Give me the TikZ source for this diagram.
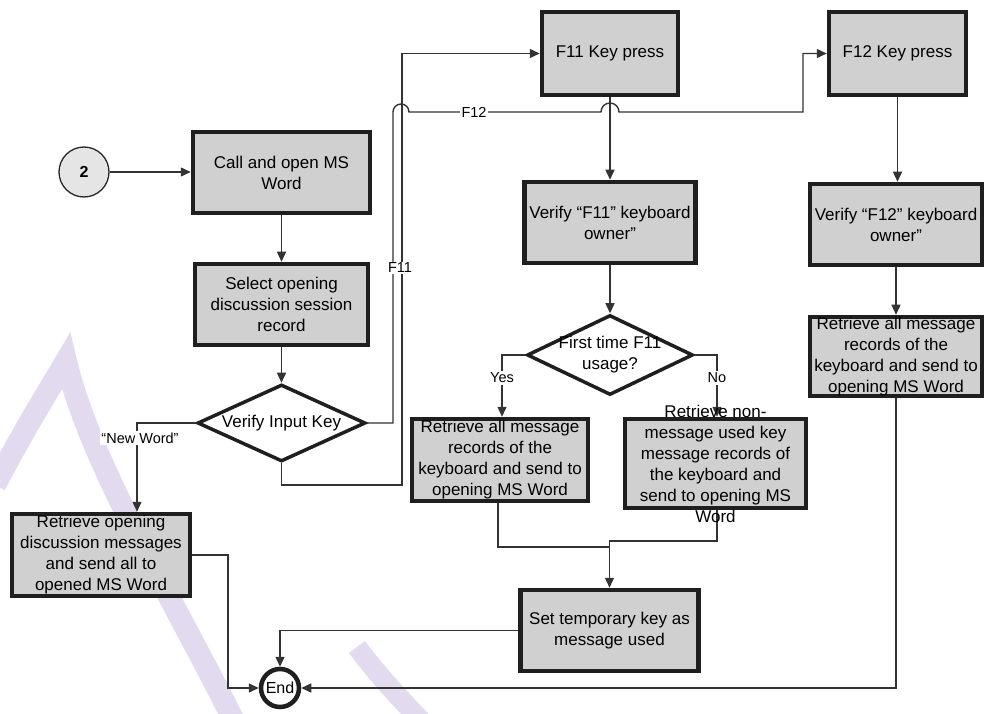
\documentclass[tikz,border=0pt]{standalone}
\usepackage{fontspec}
\setmainfont{Liberation Sans}
\usetikzlibrary{arrows.meta,shapes.geometric}
\definecolor{wmark}{RGB}{226,218,238}
\definecolor{boxfill}{RGB}{208,208,208}
\begin{document}
\begin{tikzpicture}[x=1pt,y=1pt,
  boxtext/.style={align=center, inner sep=0pt, font=\fontsize{17}{21}\selectfont},
  proc/.style={draw=black!88, line width=4.5pt, fill=boxfill, inner sep=0pt},
  ptext/.style={label={[boxtext]center:{#1}}},
  dec/.style={diamond, draw=black!88, line width=3.5pt, fill=white, inner sep=0pt},
  conn/.style={draw=black!80, line width=1.4pt},
  arr/.style={conn, -{Triangle[length=10pt,width=9pt]}},
  lbl/.style={fill=white, inner sep=1.5pt, font=\fontsize{14.5}{16}\selectfont},
  wm/.style={draw=wmark, line width=22pt, line join=miter}
]
\useasboundingbox (0,0) rectangle (984,713);

% faint background mark
\draw[wm] (-5,228) .. controls (25,285) and (50,325) .. (66,352)
          .. controls (90,250) and (170,120) .. (236,-12);
\draw[wm, line width=20pt] (357,66) .. controls (380,35) and (400,15) .. (425,-12);

% process boxes
\node[circle, draw=black!85, line width=1.3pt, fill=black!10, minimum size=50,
      inner sep=0pt, font=\bfseries\fontsize{16}{16}\selectfont] (c2) at (84,541) {2};
\node[proc, minimum width=177, minimum height=81,
      ptext={Call and open MS\\Word}] (callword) at (281.5,540.5) {};
\node[proc, minimum width=173, minimum height=81,
      ptext={Select opening\\discussion session\\record}] (selrec) at (281.5,408.5) {};
\node[dec, minimum width=168, minimum height=77] (vik) at (281.5,290) {};
\node[boxtext] (vikt) at (vik) {Verify Input Key};

\node[proc, minimum width=136, minimum height=83,
      ptext={F11 Key press}] (f11) at (610,659.5) {};
\node[proc, minimum width=137, minimum height=83,
      ptext={F12 Key press}] (f12) at (897.5,659.5) {};
\node[proc, minimum width=171, minimum height=81,
      ptext={Verify “F11” keyboard\\owner”}] (vf11) at (610,490.5) {};
\node[proc, minimum width=172, minimum height=81,
      ptext={Verify “F12” keyboard\\owner”}] (vf12) at (896,488.5) {};
\node[proc, minimum width=172, minimum height=79,
      ptext={Retrieve all message\\records of the\\keyboard and send to\\opening MS Word}] (ra12) at (896,356.5) {};

\node[dec, minimum width=166, minimum height=80] (fdia) at (610,358) {};
\node[proc, minimum width=176, minimum height=82,
      ptext={Retrieve all message\\records of the\\keyboard and send to\\opening MS Word}] (ra11) at (500,253) {};
\node[proc, minimum width=181, minimum height=89] (rnm) at (715.5,249.5) {};
\node[proc, minimum width=178, minimum height=81,
      ptext={Set temporary key as\\message used}] (settmp) at (609.5,82.5) {};
\node[proc, minimum width=178, minimum height=82,
      ptext={Retrieve opening\\discussion messages\\and send all to\\opened MS Word}] (rod) at (101,158) {};
\node[circle, draw=black!88, line width=4.5pt, fill=white, minimum size=38,
      inner sep=0pt, font=\fontsize{16}{16}\selectfont] (endn) at (280,25) {End};

% connectors
\draw[arr] (c2.east) -- (c2.east -| callword.west);
\draw[arr] (callword) -- (selrec);
\draw[arr] (selrec) -- (vik);
\draw[arr] (vik.west) -| ([xshift=36pt]rod.north);
\draw[arr] (vik.east) -| (393,601) arc[start angle=180,end angle=0,radius=8]
           -- (601,601) arc[start angle=180,end angle=0,radius=9]
           -- (803,601) |- (f12.west);
\draw[arr] (vik.south) |- (402,228) |- (f11.west);
\draw[arr] (f11) -- (vf11);
\draw[arr] (vf11) -- (fdia);
\draw[arr] (fdia.west) -| ([xshift=2pt]ra11.north);
\draw[arr] (fdia.east) -| ([xshift=1.5pt]rnm.north);
\draw[conn] ([xshift=-2pt]ra11.south) |- (609.5,166);
\draw[arr] ([xshift=1.5pt]rnm.south) |- (609.5,172) -- (settmp.north);
\draw[arr] (settmp.west) -| (endn.north);
\draw[arr] (rod.east) -| (228,25) -- (endn.west);
\draw[arr] (ra12.south) |- (endn.east);
\draw[arr] (f12.south) -- (f12.south |- vf12.north);
\draw[arr] (vf12) -- (ra12);

% texts laid over the drawing
\node[boxtext] (rnmt) at (rnm) {Retrieve non-\\message used key\\message records of\\the keyboard and\\send to opening MS\\Word};
\node[boxtext] (fdiat) at (fdia) {First time F11\\usage?};
\node[lbl] (lf11) at (400,445) {F11};
\node[lbl] (lf12) at (474,601) {F12};
\node[lbl] (lyes) at (502,335) {Yes};
\node[lbl] (lno) at (717,335) {No};
\node[lbl] (lnw) at (140,275) {“New Word”};
\end{tikzpicture}
\end{document}
